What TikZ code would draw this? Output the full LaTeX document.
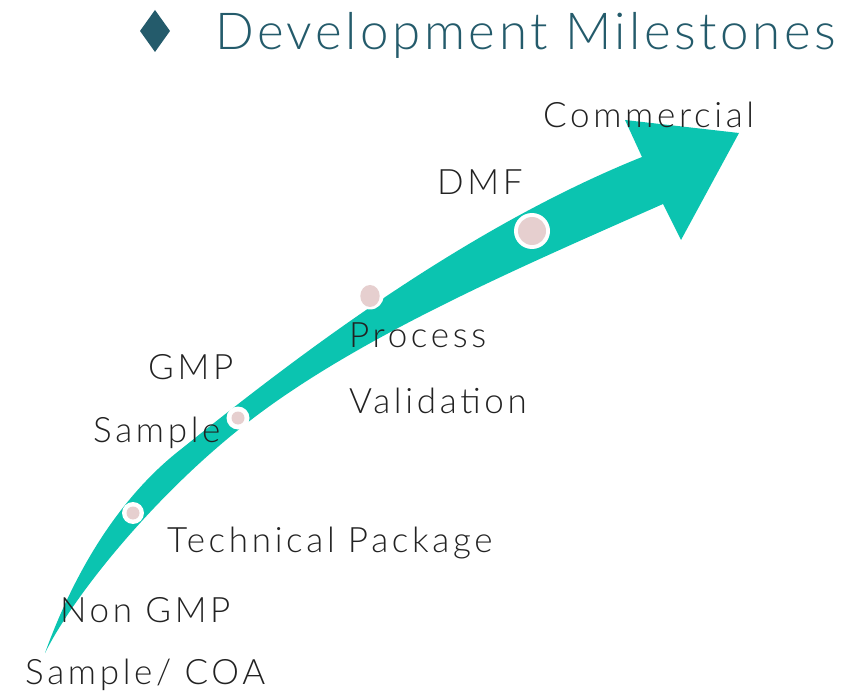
\documentclass[tikz,border=0pt]{standalone}
\usepackage{fontspec}
\setmainfont{Lato Light}
\definecolor{teal}{RGB}{11,196,176}
\definecolor{dotpink}{RGB}{230,207,207}
\definecolor{titleblue}{RGB}{36,91,107}
\definecolor{labelgray}{RGB}{34,34,34}
\tikzset{milestone/.style={anchor=base west,inner sep=0pt,text=labelgray,font=\fontsize{35}{42}\selectfont\addfontfeatures{LetterSpace=10.5}},
  dotring/.style={circle,fill=white,inner sep=0pt}}

\begin{document}
\begin{tikzpicture}[x=1pt,y=-1pt]
                  \useasboundingbox (0,0) rectangle (868,695);
                  \fill[teal] (45,653) .. controls (75,570) and (120,497) .. (180,450)
                      .. controls (280,370) and (455,232) .. (642,157)
                      -- (625,120) -- (739,133) -- (681,240) -- (663,204)
                      .. controls (523,266) and (357,337) .. (247,423)
                      .. controls (157,493) and (75,593) .. (45,653) -- cycle;
                  \node[dotring,minimum size=22pt] (dotTech) at (133,513) {};
                  \fill[dotpink] (dotTech) circle (6.5);
                  \node[dotring,minimum size=23pt] (dotGmp) at (238,418) {};
                  \fill[dotpink] (dotGmp) circle (6.5);
                  \node[dotring,minimum size=27pt] (dotProc) at (370,296) {};
                  \fill[dotpink] (dotProc) ellipse (9.7 and 11);
                  \node[dotring,minimum size=36pt] (dotDmf) at (532,231) {};
                  \fill[dotpink] (dotDmf) circle (14);
                  \fill[titleblue] (140,31) -- (155,10) -- (170,31) -- (155,52) -- cycle;
                  \node[anchor=base west,inner sep=0pt,text=titleblue,font=\fontsize{51}{60}\selectfont\addfontfeatures{LetterSpace=7}] (title) at (215,50) {Development Milestones};
                  \node[milestone] (lblCommercial) at (543,128) {Commercial};
                  \node[milestone] (lblDmf) at (437,195) {DMF};
                  \node[milestone] (lblProcess) at (349,348) {Process};
                  \node[milestone] (lblValidation) at (349,413) {Validation};
                  \node[milestone] (lblGmp) at (148,379) {GMP};
                  \node[milestone] (lblGmpSample) at (93,442) {Sample};
                  \node[milestone] (lblTech) at (167,552) {Technical Package};
                  \node[milestone] (lblNonGmp) at (60,622) {Non GMP};
                  \node[milestone] (lblCoa) at (25,684) {Sample/ COA};
              \end{tikzpicture}
\end{document}
